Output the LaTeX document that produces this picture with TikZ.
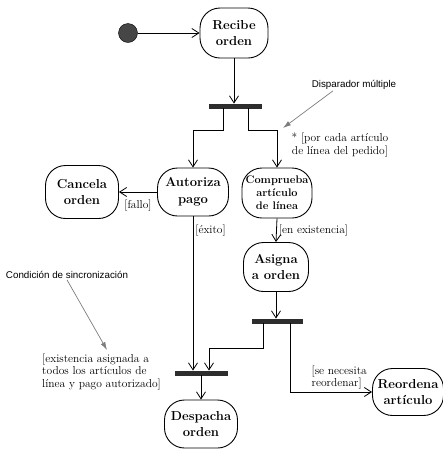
\documentclass[tikz,border=0pt]{standalone}
\definecolor{notegray}{RGB}{125, 125, 125}
\definecolor{bardark}{RGB}{45, 45, 45}
\definecolor{startdark}{RGB}{70, 70, 70}
\usepackage{fontspec}
\newfontfamily\notefont{Liberation Sans}
\usepackage{tikz}
\usetikzlibrary{shapes.misc, arrows.meta, positioning, calc}
\tikzset{
    activity/.style={draw, rectangle, rounded corners=20pt, line width=0.9pt, minimum width=68pt, minimum height=50pt, inner sep=2pt, font=\fontsize{13}{16.5}\selectfont\bfseries, align=center},
    smallactivity/.style={activity, font=\fontsize{11}{13}\selectfont\bfseries},
    syncbar/.style={draw=bardark, fill=bardark, rectangle, minimum width=52pt, minimum height=4.5pt, inner sep=0pt},
    startstate/.style={draw=black, fill=startdark, circle, minimum size=19pt, inner sep=0pt},
    flowarrow/.style={-{Straight Barb[length=7pt, width=9pt]}, line width=0.8pt},
    notearrow/.style={-{Latex[length=8pt, width=5pt]}, line width=0.7pt, draw=notegray},
    guard/.style={font=\fontsize{11.5}{12.5}\selectfont, inner sep=2pt},
    annotation/.style={font=\notefont\fontsize{9.8}{11}\selectfont, inner sep=1pt},
}
\begin{document}
\begin{tikzpicture}[x=1pt, y=-1pt]
    \useasboundingbox (0,0) rectangle (443,451);
    % The order activities
    \node[startstate] (start) at (128, 33) {};
    \node[activity] (recibe) at (234, 33) {Recibe\\orden};
    \node[syncbar] (fork) at (235, 106) {};
    \node[activity, minimum width=71pt, minimum height=48pt] (autoriza) at (193, 192) {Autoriza\\pago};
    \node[smallactivity, minimum width=70pt] (comprueba) at (277, 193) {Comprueba\\artículo\\de línea};
    \node[activity, minimum width=73pt, minimum height=53pt] (cancela) at (82, 192) {Cancela\\orden};
    \node[activity, minimum width=65pt, minimum height=49pt] (asigna) at (276, 267) {Asigna\\a orden};
    \node[syncbar, minimum width=50pt] (split) at (277, 321) {};
    \node[syncbar] (join) at (201, 373) {};
    \node[activity, minimum width=73pt, minimum height=48pt] (despacha) at (201, 424) {Despacha\\orden};
    \node[activity, minimum width=71pt, minimum height=47pt] (reordena) at (408, 392) {Reordena\\artículo};

    \draw[flowarrow] (start) -- (recibe);
    \draw[flowarrow] (recibe.south) -- (recibe.south |- fork.north);
    \draw[flowarrow] ([xshift=-12pt]fork.south) -- ++(0,22) -| (autoriza.north);
    \draw[flowarrow] ([xshift=13pt]fork.south) -- ++(0,22) -| (comprueba.north);
    \draw[flowarrow] (autoriza.west) -- node[guard, below=5pt] {[fallo]} (cancela.east);
    \draw[flowarrow] (autoriza.south) -- node[guard, right, pos=0.09] {[éxito]} (autoriza.south |- join.north);
    \draw[flowarrow] (comprueba.south) -- node[guard, right] {[en existencia]} (asigna.north);
    \draw[flowarrow] (asigna.south) -- (asigna.south |- split.north);
    \draw[flowarrow] ([xshift=-14pt]split.south) -- ++(0,25) -| ([xshift=8pt]join.north);
    \draw[flowarrow] ([xshift=13pt]split.south) |- node[guard, above, pos=0.8, align=left] {[se necesita\\reordenar]} (reordena.west);
    \draw[flowarrow] (join.south) -- (despacha.north);

    % Notes
    \node[annotation] (disparador) at (354, 85) {Disparador múltiple};
    \coordinate (multitip) at (283, 128);
    \draw[notearrow] ([xshift=-21pt]disparador.south) -- (multitip);
    \node[guard, align=center] (porcada) at (340, 145) {* [por cada artículo\\de línea del pedido]};
    \node[annotation] (sincro) at (67, 275) {Condición de sincronización};
    \coordinate (synctip) at (107, 350);
    \draw[notearrow] (sincro.south) -- (synctip);
    \node[guard, align=left, anchor=west] (sincguard) at (40, 372) {[existencia asignada a\\todos los artículos de\\línea y pago autorizado]};
\end{tikzpicture}
\end{document}
